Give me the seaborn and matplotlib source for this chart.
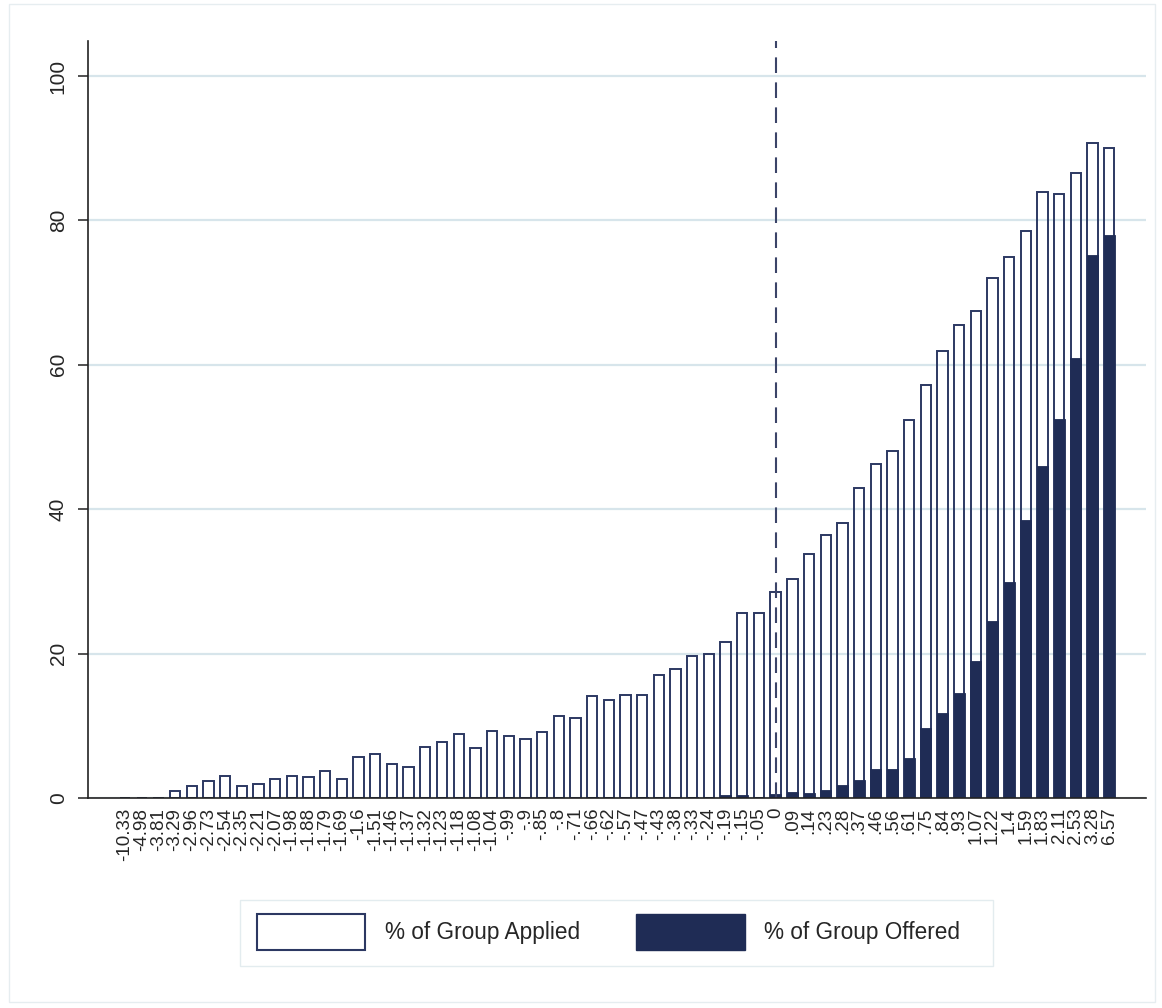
import matplotlib
matplotlib.use("Agg")
import matplotlib.pyplot as plt
from matplotlib.patches import Patch, Rectangle
import pandas as pd
import seaborn as sns

# Score groups (bin labels along the x axis)
rank_labels = [
    "-10.33", "-4.98", "-3.81", "-3.29", "-2.96", "-2.73", "-2.54", "-2.35", "-2.21", "-2.07",
    "-1.98", "-1.88", "-1.79", "-1.69", "-1.6", "-1.51", "-1.46", "-1.37", "-1.32", "-1.23",
    "-1.18", "-1.08", "-1.04", "-.99", "-.9", "-.85", "-.8", "-.71", "-.66", "-.62",
    "-.57", "-.47", "-.43", "-.38", "-.33", "-.24", "-.19", "-.15", "-.05", "0",
    ".09", ".14", ".23", ".28", ".37", ".46", ".56", ".61", ".75", ".84",
    ".93", "1.07", "1.22", "1.4", "1.59", "1.83", "2.11", "2.53", "3.28", "6.57",
]

# Share of each group that applied (%)
pct_applied = [
    0.0, 0.0, 0.0, 1.0, 1.7, 2.3, 3.0, 1.6, 1.9, 2.7,
    3.0, 2.9, 3.8, 2.7, 5.7, 6.1, 4.7, 4.3, 7.1, 7.7,
    8.9, 6.9, 9.3, 8.6, 8.2, 9.2, 11.3, 11.1, 14.1, 13.6,
    14.2, 14.2, 17.0, 17.9, 19.7, 19.9, 21.6, 25.6, 25.6, 28.6,
    30.3, 33.8, 36.4, 38.1, 42.9, 46.2, 48.1, 52.4, 57.2, 61.9,
    65.5, 67.5, 72.0, 75.0, 78.6, 83.9, 83.7, 86.5, 90.7, 90.0,
]

# Share of each group that received an offer (%)
pct_offered = [
    0.0, 0.0, 0.0, 0.0, 0.0, 0.0, 0.0, 0.0, 0.0, 0.0,
    0.0, 0.0, 0.0, 0.0, 0.0, 0.0, 0.0, 0.0, 0.0, 0.0,
    0.0, 0.0, 0.0, 0.0, 0.0, 0.0, 0.0, 0.0, 0.2, 0.1,
    0.2, 0.2, 0.2, 0.1, 0.2, 0.2, 0.4, 0.4, 0.2, 0.5,
    0.8, 0.7, 1.1, 1.8, 2.5, 4.0, 4.0, 5.6, 9.7, 11.8,
    14.6, 19.0, 24.5, 29.9, 38.5, 46.0, 52.5, 60.9, 75.2, 78.0,
]

cutoff_label = "0"

NAVY = "#1f2c55"
EDGE = "#2c3862"
GRID = "#d7e5eb"
AXIS = "#222222"

sns.set_style("white")
plt.rcParams["font.family"] = ["Liberation Sans", "DejaVu Sans"]

W, H = 1162, 1008
fig = plt.figure(figsize=(W / 100, H / 100), dpi=100)
fig.patch.set_facecolor("white")
ax = fig.add_axes([88 / W, 1 - 798 / H, (1146 - 88) / W, (798 - 41) / H])

df = pd.DataFrame({"rank": rank_labels, "applied": pct_applied, "offered": pct_offered})

sns.barplot(data=df, x="rank", y="applied", order=rank_labels, color="white",
            edgecolor=EDGE, linewidth=1.4, width=0.62, saturation=1,
            errorbar=None, ax=ax, zorder=2)
for p in ax.patches:
    p.set_facecolor("none")
sns.barplot(data=df, x="rank", y="offered", order=rank_labels, color=NAVY,
            edgecolor=NAVY, linewidth=0.6, width=0.66, saturation=1,
            errorbar=None, ax=ax, zorder=3)

# Threshold marker
ax.axvline(rank_labels.index(cutoff_label), color="#3b4468", lw=1.5,
           dashes=(7.5, 4.5), zorder=4)

ax.set_xlim(-2.22, 61.2)
ax.set_ylim(0, 104.85)
ax.set_yticks([0, 20, 40, 60, 80, 100])
ax.yaxis.grid(True, color=GRID, lw=1.6)
ax.xaxis.grid(False)
ax.set_axisbelow(True)

for side in ("top", "right"):
    ax.spines[side].set_visible(False)
for side in ("left", "bottom"):
    ax.spines[side].set_color(AXIS)
    ax.spines[side].set_linewidth(1.2)
    ax.spines[side].set_zorder(5)

ax.tick_params(axis="y", length=7.5, width=1.1, color=AXIS, labelsize=15,
               labelrotation=90, pad=7, left=True)
for lbl in ax.get_yticklabels():
    lbl.set_va("center")
ax.tick_params(axis="x", length=0, labelsize=13.5, labelrotation=90, pad=7)
ax.set_xlabel("")
ax.set_ylabel("")

handles = [
    Patch(facecolor="white", edgecolor=EDGE, linewidth=1.5, label="% of Group Applied"),
    Patch(facecolor=NAVY, edgecolor=NAVY, label="% of Group Offered"),
]
leg = fig.legend(handles=handles, loc="center", bbox_to_anchor=(608.5 / W, 1 - 932 / H),
                 ncol=2, frameon=False, fontsize=16.3, handlelength=4.8,
                 handleheight=2.1, handletextpad=0.85, columnspacing=2.5,
                 borderpad=0.0)

# Legend box, a little wider on the right as in the original layout
fig.add_artist(Rectangle((240 / W, 1 - 966 / H), (993 - 240) / W, (966 - 900) / H,
                         transform=fig.transFigure, fill=False,
                         edgecolor="#e3ecef", lw=1.0))

# Light border around the whole graph region
fig.add_artist(Rectangle((9 / W, 1 - 1002 / H), (1155 - 9) / W, (1002 - 4) / H,
                         transform=fig.transFigure, fill=False,
                         edgecolor="#e6edf0", lw=1.0))

fig.savefig("out.png", dpi=100)
